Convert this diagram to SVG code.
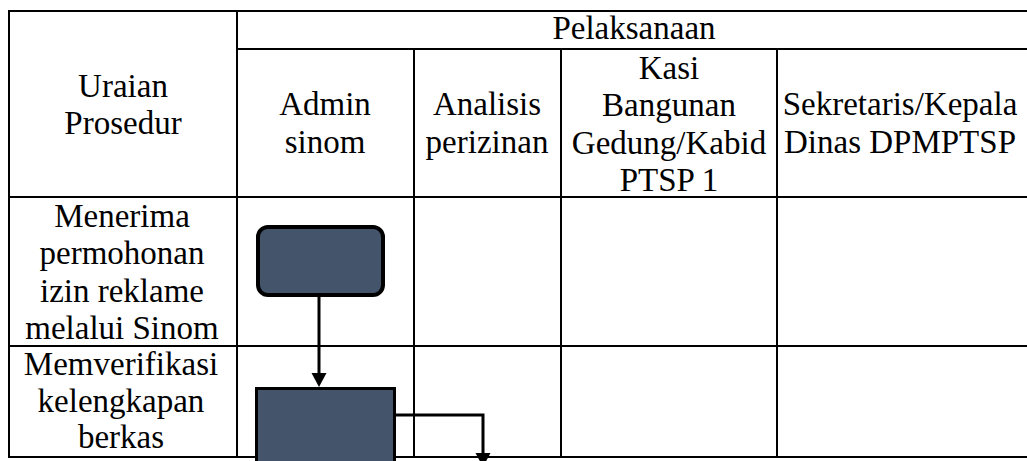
<svg xmlns="http://www.w3.org/2000/svg" width="1027" height="461" viewBox="0 0 1027 461">
<style>
.g{stroke:#000;stroke-width:2;fill:none}
.t{font-family:"Liberation Serif","Times New Roman",serif;font-size:33px;fill:#000;text-anchor:middle}
.box{fill:#44546a;stroke:#000}
.c{stroke:#000;stroke-width:3;fill:none}
</style>
<rect width="1027" height="461" fill="#fff"/>
<g id="grid">
<line class="g" x1="8" y1="11" x2="1027" y2="11"/>
<line class="g" x1="237" y1="49" x2="1027" y2="49"/>
<line class="g" x1="8" y1="197" x2="1027" y2="197"/>
<line class="g" x1="8" y1="346" x2="1027" y2="346"/>
<line class="g" x1="8" y1="457" x2="1027" y2="457"/>
<line class="g" x1="9" y1="10" x2="9" y2="458"/>
<line class="g" x1="237" y1="10" x2="237" y2="458"/>
<line class="g" x1="414" y1="49" x2="414" y2="458"/>
<line class="g" x1="561" y1="49" x2="561" y2="458"/>
<line class="g" x1="777" y1="49" x2="777" y2="458"/>
</g>
<g id="headers">
<text class="t" x="634" y="39">Pelaksanaan</text>
<text class="t" x="123" y="97">Uraian</text>
<text class="t" x="123" y="134">Prosedur</text>
<text class="t" x="325" y="115">Admin</text>
<text class="t" x="325" y="153">sinom</text>
<text class="t" x="487" y="115">Analisis</text>
<text class="t" x="487" y="153">perizinan</text>
<text class="t" x="669" y="79">Kasi</text>
<text class="t" x="669" y="116">Bangunan</text>
<text class="t" x="669" y="154">Gedung/Kabid</text>
<text class="t" x="669" y="191">PTSP 1</text>
<text class="t" x="900" y="115">Sekretaris/Kepala</text>
<text class="t" x="900" y="153">Dinas DPMPTSP</text>
</g>
<g id="row1-label">
<text class="t" x="122" y="227">Menerima</text>
<text class="t" x="122" y="264">permohonan</text>
<text class="t" x="122" y="302">izin reklame</text>
<text class="t" x="122" y="339">melalui Sinom</text>
</g>
<g id="row2-label">
<text class="t" x="121" y="375">Memverifikasi</text>
<text class="t" x="121" y="412">kelengkapan</text>
<text class="t" x="121" y="448">berkas</text>
</g>
<g id="node-start">
<rect class="box" x="258" y="227" width="125" height="68" rx="10" stroke-width="4"/>
</g>
<g id="node-verify">
<rect class="box" x="256.5" y="388.5" width="138" height="80" stroke-width="3"/>
</g>
<g id="connectors">
<line class="c" x1="319" y1="297" x2="319" y2="374"/>
<polygon points="311.5,373 326.5,373 319,387" fill="#000"/>
<polyline class="c" points="396,415 483,415 483,454"/>
<polygon points="475.5,453 490.5,453 483,467" fill="#000"/>
</g>
</svg>
